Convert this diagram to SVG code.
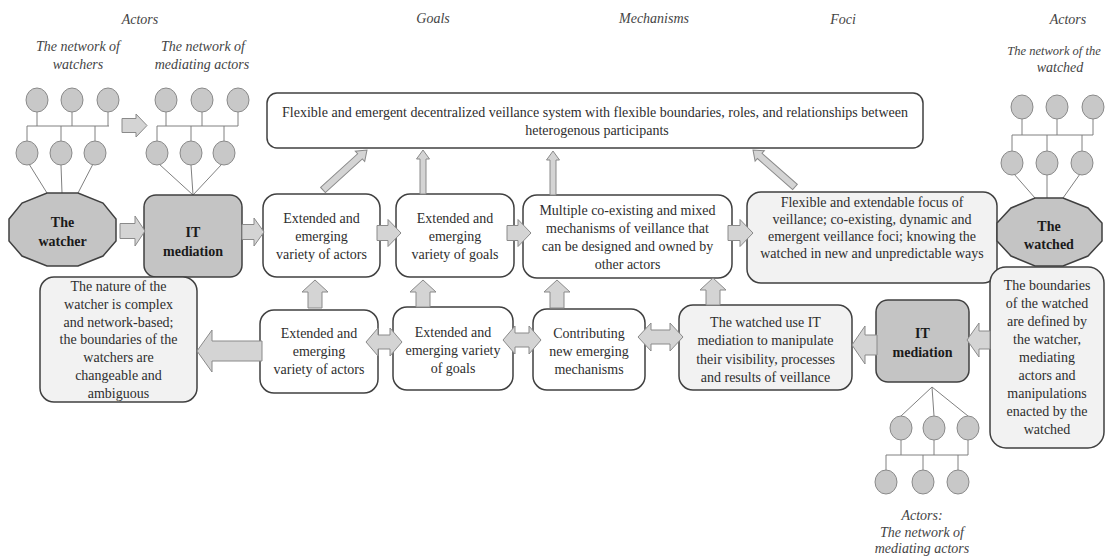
<svg xmlns="http://www.w3.org/2000/svg" width="1105" height="556" viewBox="0 0 1105 556">
<style>
.box{fill:#fff;stroke:#404040;stroke-width:1.5}
.lbox{fill:#f2f2f2;stroke:#404040;stroke-width:1.5}
.dark{fill:#c4c4c4;stroke:#404040;stroke-width:1.5}
.t{font-family:"Liberation Serif","Times New Roman",serif;font-size:14px;fill:#2e2e2e;text-anchor:middle}
.b{font-weight:bold;fill:#1a1a1a}
.h{font-style:italic;fill:#444}
.arr{fill:#d4d4d4;stroke:#8a8a8a;stroke-width:1}
.c{fill:#c8c8c8;stroke:#8a8a8a;stroke-width:1}
.ln{stroke:#808080;stroke-width:1;fill:none}
</style>
<rect width="1105" height="556" fill="#fff"/>

<g id="headers" class="t h">
<text x="140" y="24">Actors</text>
<text x="78" y="51">The network of</text>
<text x="78" y="69">watchers</text>
<text x="203" y="51">The network of</text>
<text x="202" y="69">mediating actors</text>
<text x="433" y="23">Goals</text>
<text x="654" y="23">Mechanisms</text>
<text x="843" y="24">Foci</text>
<text x="1068" y="24">Actors</text>
<text x="1054" y="55" style="font-size:12.5px">The network of the</text>
<text x="1060" y="72">watched</text>
</g>

<g id="network-watchers">
<path class="ln" d="M37,112V126M72,112V126M108,112V126M27,126H109M27,126V141M61,126V141M95,126V141M29,164L47,193M61,165L62,193M93,164L78,193"/>
<ellipse class="c" cx="37" cy="100" rx="11" ry="12"/><ellipse class="c" cx="72" cy="100" rx="11" ry="12"/><ellipse class="c" cx="108" cy="100" rx="11" ry="12"/>
<ellipse class="c" cx="27" cy="153" rx="11" ry="12"/><ellipse class="c" cx="61" cy="153" rx="11" ry="12"/><ellipse class="c" cx="95" cy="153" rx="11" ry="12"/>
</g>

<g id="network-mediating-top">
<path class="ln" d="M166,112V126M202,112V126M238,112V126M157,126H238M157,126V141M191,126V141M224,126V141M159,164L193,195M191,165L193,195M222,164L193,195"/>
<ellipse class="c" cx="166" cy="100" rx="11" ry="12"/><ellipse class="c" cx="202" cy="100" rx="11" ry="12"/><ellipse class="c" cx="238" cy="100" rx="11" ry="12"/>
<ellipse class="c" cx="157" cy="153" rx="11" ry="12"/><ellipse class="c" cx="191" cy="153" rx="11" ry="12"/><ellipse class="c" cx="224" cy="153" rx="11" ry="12"/>
</g>

<g id="network-watched">
<path class="ln" d="M1022,119V135M1057,119V135M1093,119V135M1012,135H1093M1012,135V151M1047,135V151M1082,135V151M1014,174L1035,198M1047,175L1047,198M1080,174L1063,198"/>
<ellipse class="c" cx="1022" cy="107" rx="11" ry="12"/><ellipse class="c" cx="1057" cy="107" rx="11" ry="12"/><ellipse class="c" cx="1093" cy="107" rx="11" ry="12"/>
<ellipse class="c" cx="1012" cy="163" rx="11" ry="12"/><ellipse class="c" cx="1047" cy="163" rx="11" ry="12"/><ellipse class="c" cx="1082" cy="163" rx="11" ry="12"/>
</g>

<g id="network-mediating-bottom">
<path class="ln" d="M932,387L901,416M932,387L934,416M932,387L968,416M901,440V455M934,440V455M968,440V455M886,455H968M886,455V470M923,455V470M958,455V470"/>
<ellipse class="c" cx="901" cy="428" rx="11" ry="12"/><ellipse class="c" cx="934" cy="428" rx="11" ry="12"/><ellipse class="c" cx="968" cy="428" rx="11" ry="12"/>
<ellipse class="c" cx="886" cy="482" rx="11" ry="12"/><ellipse class="c" cx="923" cy="482" rx="11" ry="12"/><ellipse class="c" cx="958" cy="482" rx="11" ry="12"/>
<text class="t h" x="922" y="520">Actors:</text>
<text class="t h" x="922" y="537">The network of</text>
<text class="t h" x="922" y="553">mediating actors</text>
</g>

<g id="top-box">
<rect class="box" x="267" y="93" width="656" height="55" rx="10"/>
<text class="t" x="595" y="117" textLength="626" lengthAdjust="spacing">Flexible and emergent decentralized veillance system with flexible boundaries, roles, and relationships between</text>
<text class="t" x="597" y="135">heterogenous participants</text>
</g>

<g id="watcher">
<polygon class="dark" points="47,193 78,193 103,203 116,219 116,241 103,256 78,266 47,266 22,256 9,241 9,219 22,203"/>
<text class="t b" x="62.5" y="227">The</text>
<text class="t b" x="62.5" y="246">watcher</text>
</g>

<g id="it-left">
<rect class="dark" x="144" y="195" width="98" height="82" rx="12"/>
<text class="t b" x="193" y="237">IT</text>
<text class="t b" x="193" y="256">mediation</text>
</g>

<g id="nature">
<rect class="lbox" x="40" y="277" width="157" height="125" rx="14"/>
<text class="t" x="118.5" y="291">The nature of the</text>
<text class="t" x="118.5" y="309">watcher is complex</text>
<text class="t" x="118.5" y="327">and network-based;</text>
<text class="t" x="118.5" y="344">the boundaries of the</text>
<text class="t" x="118.5" y="362">watchers are</text>
<text class="t" x="118.5" y="380">changeable and</text>
<text class="t" x="118.5" y="398">ambiguous</text>
</g>

<g id="actors-top">
<rect class="box" x="263" y="194" width="117" height="83" rx="14"/>
<text class="t" x="321.5" y="223">Extended and</text>
<text class="t" x="321.5" y="241">emerging</text>
<text class="t" x="321.5" y="259">variety of actors</text>
</g>

<g id="goals-top">
<rect class="box" x="396" y="194" width="118" height="83" rx="14"/>
<text class="t" x="455" y="223">Extended and</text>
<text class="t" x="455" y="241">emerging</text>
<text class="t" x="455" y="259">variety of goals</text>
</g>

<g id="mechanisms-top">
<rect class="box" x="523" y="195" width="209" height="83" rx="14"/>
<text class="t" x="627.5" y="215">Multiple co-existing and mixed</text>
<text class="t" x="627.5" y="233">mechanisms of veillance that</text>
<text class="t" x="627.5" y="251">can be designed and owned by</text>
<text class="t" x="627.5" y="269">other actors</text>
</g>

<g id="foci">
<rect class="lbox" x="747" y="192" width="250" height="91" rx="14"/>
<text class="t" x="872" y="207">Flexible and extendable focus of</text>
<text class="t" x="872" y="224">veillance; co-existing, dynamic and</text>
<text class="t" x="872" y="241">emergent veillance foci; knowing the</text>
<text class="t" x="872" y="258">watched in new and unpredictable ways</text>
</g>

<g id="boundaries">
<rect class="lbox" x="990" y="267" width="114" height="181" rx="16"/>
<text class="t" x="1047" y="290">The boundaries</text>
<text class="t" x="1047" y="308">of the watched</text>
<text class="t" x="1047" y="326">are defined by</text>
<text class="t" x="1047" y="344">the watcher,</text>
<text class="t" x="1047" y="362">mediating</text>
<text class="t" x="1047" y="380">actors and</text>
<text class="t" x="1047" y="398">manipulations</text>
<text class="t" x="1047" y="416">enacted by the</text>
<text class="t" x="1047" y="434">watched</text>
</g>

<g id="watched">
<polygon class="dark" points="1035,198 1063,198 1088,208 1102,223 1102,241 1088,256 1063,266 1035,266 1011,256 997,241 997,223 1011,208"/>
<text class="t b" x="1049" y="231">The</text>
<text class="t b" x="1049" y="249">watched</text>
</g>

<g id="actors-bottom">
<rect class="box" x="260" y="310" width="118" height="83" rx="14"/>
<text class="t" x="319" y="338">Extended and</text>
<text class="t" x="319" y="356">emerging</text>
<text class="t" x="319" y="374">variety of actors</text>
</g>

<g id="goals-bottom">
<rect class="box" x="393" y="307" width="120" height="83" rx="14"/>
<text class="t" x="453" y="337">Extended and</text>
<text class="t" x="453" y="355">emerging variety</text>
<text class="t" x="453" y="373">of goals</text>
</g>

<g id="mechanisms-bottom">
<rect class="box" x="533" y="309" width="112" height="81" rx="14"/>
<text class="t" x="589" y="338">Contributing</text>
<text class="t" x="589" y="356">new emerging</text>
<text class="t" x="589" y="374">mechanisms</text>
</g>

<g id="watched-use">
<rect class="lbox" x="679" y="305" width="173" height="85" rx="14"/>
<text class="t" x="765.5" y="327">The watched use IT</text>
<text class="t" x="765.5" y="345">mediation to manipulate</text>
<text class="t" x="765.5" y="364">their visibility, processes</text>
<text class="t" x="765.5" y="382">and results of veillance</text>
</g>

<g id="it-right">
<rect class="dark" x="876" y="300" width="93" height="82" rx="12"/>
<text class="t b" x="922.5" y="338">IT</text>
<text class="t b" x="922.5" y="357">mediation</text>
</g>

<g id="connectors" class="arr">
<path d="M122,118.5H136V114L147,125.5L136,137V132.5H122Z"/>
<path d="M120,223.5H135V216L145,231L135,246V238.5H120Z"/>
<path d="M242,224.5H254V218L264,232L254,246V239.5H242Z"/>
<path d="M377,225.5H388V219.5L401,233L388,246.5V240.5H377Z"/>
<path d="M507,225.5H518V219.5L531,233L518,246.5V240.5H507Z"/>
<path d="M728,225.5H740V219.5L753,233L740,246.5V240.5H728Z"/>
<path d="M308,308V292H302L315,280L328,292H322V308Z"/>
<path d="M416,307V292H410L423,280L436,292H430V307Z"/>
<path d="M550,308V292H544L557,280L570,292H564V308Z"/>
<path d="M706,305V290H700L713,278L726,290H720V305Z"/>
<path d="M366,342L378,328V335H390V328L402,342L390,356V349H378V356Z"/>
<path d="M503,340L515,326V333H529V326L541,340L529,354V347H515V354Z"/>
<path d="M638,337L651,323V330H670V323L683,337L670,351V344H651V351Z"/>
<path d="M262,341H212V330L197,351L212,372V361H262Z"/>
<path d="M877,335H865V326L852,345L865,364V355H877Z"/>
<path d="M990,331H979V323L967,340L979,357V349H990Z"/>
<path d="M420,194V159H416.5L423,150L429.5,159H426V194Z"/>
<path d="M550,195V160H546.5L553,151L559.5,160H556V195Z"/>
<path transform="translate(323,190) rotate(-42.3)" d="M0,-3.5H50V-7L59.5,0L50,7V3.5H0Z"/>
<path transform="translate(795,187) rotate(-138.6)" d="M0,-3.5H47V-7L56,0L47,7V3.5H0Z"/>
</g>
</svg>
